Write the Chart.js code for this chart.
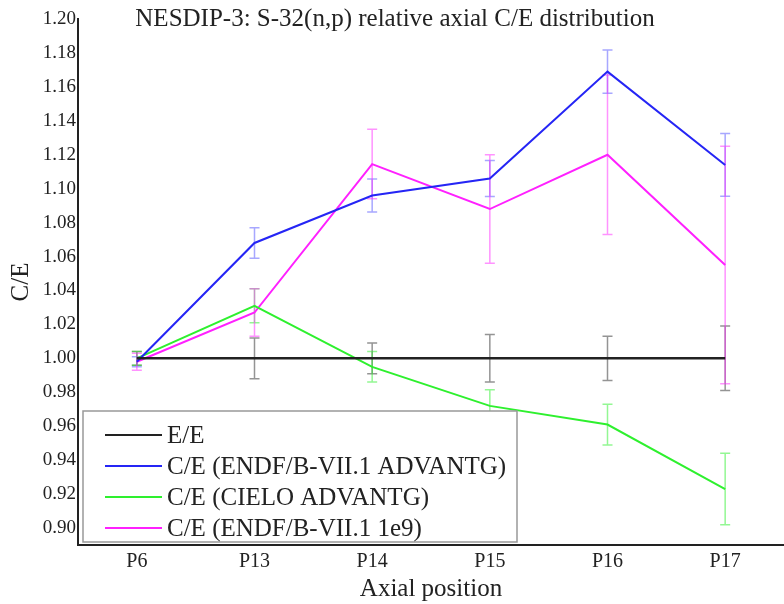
<!DOCTYPE html>
<html>
<head>
<meta charset="utf-8">
<script src="https://cdn.jsdelivr.net/npm/chart.js@4.4.1/dist/chart.umd.min.js"></script>
<style>
  body { margin: 0; background: #fff; }
  canvas { display: block; }
</style>
</head>
<body>
<canvas id="myChart" width="784" height="604"></canvas>
<script>
const positions = ['P6', 'P13', 'P14', 'P15', 'P16', 'P17'];
const yTicks = [0.90, 0.92, 0.94, 0.96, 0.98, 1.00, 1.02, 1.04, 1.06, 1.08, 1.10, 1.12, 1.14, 1.16, 1.18, 1.20];

const ee = [1.000, 1.000, 1.000, 1.000, 1.000, 1.000];
const eeErr = [0.004, 0.012, 0.009, 0.014, 0.013, 0.019];

const endfAdv = [0.998, 1.068, 1.096, 1.106, 1.169, 1.114];
const endfAdvErr = [0.003, 0.009, 0.0097, 0.0106, 0.0128, 0.0185];

const cielo = [1.000, 1.031, 0.995, 0.972, 0.961, 0.923];
const cieloErr = [0.004, 0.010, 0.009, 0.0095, 0.012, 0.021];

const endf1e9 = [0.998, 1.027, 1.1145, 1.088, 1.120, 1.055];
const endf1e9Err = [0.005, 0.014, 0.0205, 0.032, 0.047, 0.070];

const serif = '"Liberation Serif", "Times New Roman", serif';

// error bars drawn with the chart's own scales
const errorBars = {
  id: 'errorBars',
  beforeDatasetsDraw(chart) {
    const ctx = chart.ctx;
    const x = chart.scales.x, y = chart.scales.y;
    chart.data.datasets.forEach(ds => {
      if (!ds.err) return;
      ctx.save();
      ctx.strokeStyle = ds.errColor;
      ctx.lineWidth = 1.5;
      ds.data.forEach((v, i) => {
        const px = x.getPixelForValue(i);
        const top = y.getPixelForValue(v + ds.err[i]);
        const bot = y.getPixelForValue(v - ds.err[i]);
        ctx.beginPath();
        ctx.moveTo(px, top); ctx.lineTo(px, bot);
        ctx.moveTo(px - 5, top); ctx.lineTo(px + 5, top);
        ctx.moveTo(px - 5, bot); ctx.lineTo(px + 5, bot);
        ctx.stroke();
      });
      ctx.restore();
    });
  }
};

const titleAndLegend = {
  id: 'titleAndLegend',
  afterDatasetsDraw(chart) {
    const ctx = chart.ctx;
    ctx.save();
    ctx.fillStyle = '#222';
    ctx.font = '25px ' + serif;
    ctx.textAlign = 'center';
    ctx.textBaseline = 'middle';
    ctx.fillText('NESDIP-3: S-32(n,p) relative axial C/E distribution', 395, 19);

    // legend box
    ctx.fillStyle = '#fff';
    ctx.fillRect(83, 411, 434, 131);
    ctx.strokeStyle = '#999';
    ctx.lineWidth = 1.5;
    ctx.strokeRect(83, 411, 434, 131);
    ctx.font = '25px ' + serif;
    ctx.textAlign = 'left';
    chart.data.datasets.forEach((ds, i) => {
      const ly = 435 + i * 31;
      ctx.strokeStyle = ds.borderColor;
      ctx.lineWidth = 2;
      ctx.beginPath();
      ctx.moveTo(105, ly); ctx.lineTo(162, ly);
      ctx.stroke();
      ctx.fillStyle = '#222';
      ctx.fillText(ds.label, 167, ly + 1);
    });
    ctx.restore();
  }
};

const ctx = document.getElementById('myChart');
let graph = new Chart(ctx, {
  type: 'line',
  data: {
    labels: positions,
    datasets: [
      { label: 'E/E', data: ee, err: eeErr, borderColor: '#222222', errColor: 'rgba(60,60,60,0.55)', borderWidth: 2.5 },
      { label: 'C/E (ENDF/B-VII.1 ADVANTG)', data: endfAdv, err: endfAdvErr, borderColor: '#2525f5', errColor: 'rgba(60,60,255,0.45)', borderWidth: 2 },
      { label: 'C/E (CIELO ADVANTG)', data: cielo, err: cieloErr, borderColor: '#2ef02e', errColor: 'rgba(40,240,40,0.5)', borderWidth: 2 },
      { label: 'C/E (ENDF/B-VII.1 1e9)', data: endf1e9, err: endf1e9Err, borderColor: '#ff20ff', errColor: 'rgba(255,40,255,0.5)', borderWidth: 2 }
    ]
  },
  options: {
    responsive: false,
    animation: false,
    layout: { padding: { top: 19, right: 0, left: 0, bottom: 0 } },
    elements: { point: { radius: 0 }, line: { tension: 0 } },
    plugins: { legend: { display: false }, tooltip: { enabled: false } },
    scales: {
      x: {
        offset: true,
        grid: { display: false, drawTicks: false },
        border: { color: '#222', width: 2 },
        ticks: { color: '#222', font: { family: serif, size: 20 }, padding: 5 },
        title: { display: true, text: 'Axial position', color: '#222', font: { family: serif, size: 25 }, padding: { top: 0, bottom: 0 } },
        afterFit(scale) { scale.height = 59; }
      },
      y: {
        min: 0.89,
        max: 1.20,
        grid: { display: false, drawTicks: false },
        border: { color: '#222', width: 2 },
        afterBuildTicks(scale) { scale.ticks = yTicks.map(v => ({ value: v })); },
        ticks: { color: '#222', font: { family: serif, size: 19 }, padding: 2, callback: v => v.toFixed(2) },
        title: { display: true, text: 'C/E', color: '#222', font: { family: serif, size: 25 }, padding: { top: 6, bottom: 0 } },
        afterFit(scale) { scale.width = 78; }
      }
    }
  },
  plugins: [errorBars, titleAndLegend]
});
</script>
</body>
</html>
